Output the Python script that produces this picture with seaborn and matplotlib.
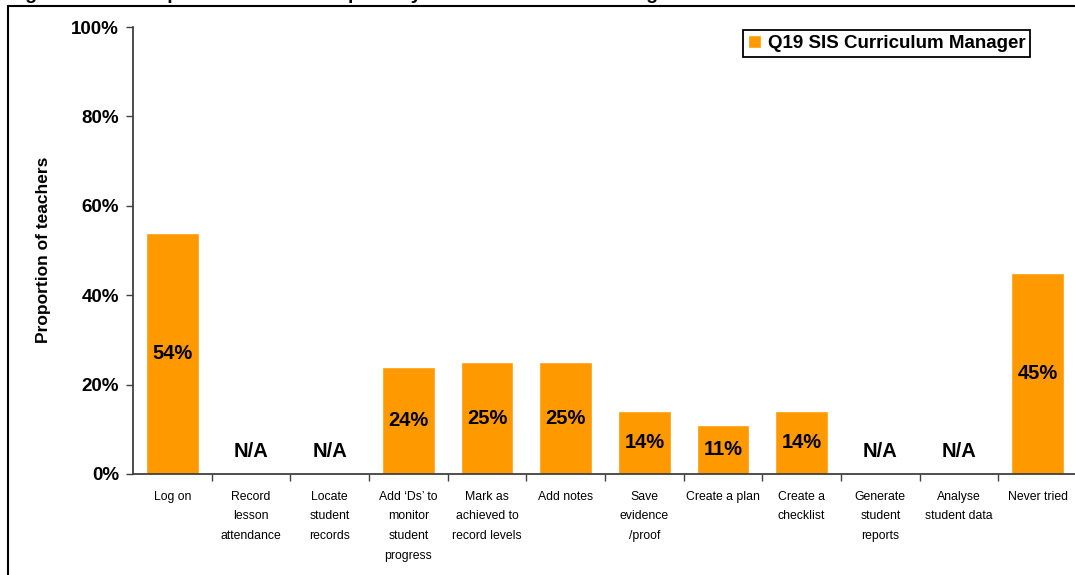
import numpy as np
import pandas as pd
import matplotlib
matplotlib.use("Agg")
import matplotlib.pyplot as plt
from matplotlib.lines import Line2D
from matplotlib.ticker import PercentFormatter, FixedLocator
import seaborn as sns

# Tasks teachers reported they could do in SIS Curriculum Manager (NaN = not asked / N/A)
tasks = [
    "Log on",
    "Record\nlesson\nattendance",
    "Locate\nstudent\nrecords",
    "Add \u2018Ds\u2019 to\nmonitor\nstudent\nprogress",
    "Mark as\nachieved to\nrecord levels",
    "Add notes",
    "Save\nevidence\n/proof",
    "Create a plan",
    "Create a\nchecklist",
    "Generate\nstudent\nreports",
    "Analyse\nstudent data",
    "Never tried",
]
shares = [0.54, np.nan, np.nan, 0.24, 0.25, 0.25, 0.14, 0.11, 0.14, np.nan, np.nan, 0.45]
series_name = "Q19 SIS Curriculum Manager"
y_ticks = [0.0, 0.2, 0.4, 0.6, 0.8, 1.0]
title = "Figure 13: Self-reported teacher competency in SIS Curriculum Manager"

df = pd.DataFrame({"task": tasks, "share": shares})

sns.set_theme(style="white")
plt.rcParams["font.family"] = ["Liberation Sans", "DejaVu Sans"]
plt.rcParams.update({"text.color": "black", "axes.labelcolor": "black",
                     "xtick.color": "black", "ytick.color": "black"})

W, H = 1075, 575
fig = plt.figure(figsize=(W / 100, H / 100), dpi=100)
ax = fig.add_axes([133 / W, 101 / H, 944 / W, 447 / H])

bar_color = "#FF9900"
sns.barplot(data=df, x="task", y="share", order=tasks, color=bar_color,
            saturation=1, width=0.67, errorbar=None, ax=ax, label=series_name)

# value labels inside bars, N/A where no data
for i, v in enumerate(shares):
    if np.isnan(v):
        ax.text(i, 0.05, "N/A", ha="center", va="center",
                fontsize=14.5, fontweight="bold", color="black")
    else:
        ax.text(i, v / 2, f"{v:.0%}", ha="center", va="center",
                fontsize=14.5, fontweight="bold", color="black")

ax.set_xlim(-0.5, len(tasks) - 0.5)
ax.set_ylim(0, 1)
ax.set_yticks(y_ticks)
ax.yaxis.set_major_formatter(PercentFormatter(1.0, decimals=0))
ax.tick_params(axis="y", direction="out", length=5, width=1, color="#404040",
               labelsize=13.5, pad=5, left=True, labelcolor="black")
for lab in ax.get_yticklabels():
    lab.set_fontweight("bold")

# category labels centred, tick marks on category boundaries
ax.set_xticks(range(len(tasks)))
ax.set_xticklabels(tasks, fontsize=8.8, linespacing=1.85, color="black")
ax.xaxis.set_minor_locator(FixedLocator(np.arange(0.5, len(tasks) - 1, 1.0)))
ax.tick_params(axis="x", which="major", length=0, pad=12)
ax.tick_params(axis="x", which="minor", direction="out", length=5, width=1,
               color="#404040", bottom=True)

ax.set_xlabel("")
ax.set_ylabel("Proportion of teachers", fontsize=12.5, fontweight="bold")
ax.yaxis.set_label_coords(-0.087, 0.501)

for side in ("top", "right"):
    ax.spines[side].set_visible(False)
for side in ("left", "bottom"):
    ax.spines[side].set_color("#404040")
    ax.spines[side].set_linewidth(1.3)

leg = ax.legend(loc="upper right", bbox_to_anchor=(1030 / W, 1 - 30 / H),
                bbox_transform=fig.transFigure, frameon=True, fancybox=False,
                edgecolor="black", framealpha=1, handlelength=0.7,
                handleheight=0.7, handletextpad=0.35, borderpad=0.25,
                borderaxespad=0, prop={"size": 13.5, "weight": "bold"})
leg.get_frame().set_linewidth(1.3)

# outer frame and figure caption running off the top edge
fig.add_artist(Line2D([8 / W, 8 / W], [0, 1 - 6 / H], transform=fig.transFigure,
                      color="black", lw=1.5))
fig.add_artist(Line2D([8 / W, 1], [1 - 6 / H, 1 - 6 / H], transform=fig.transFigure,
                      color="black", lw=1.5))
fig.text(8 / W, 1 + 1 / H, title, ha="left", va="baseline",
         fontsize=14, fontweight="bold", color="black")

fig.savefig("out.png", dpi=100, facecolor="white")
